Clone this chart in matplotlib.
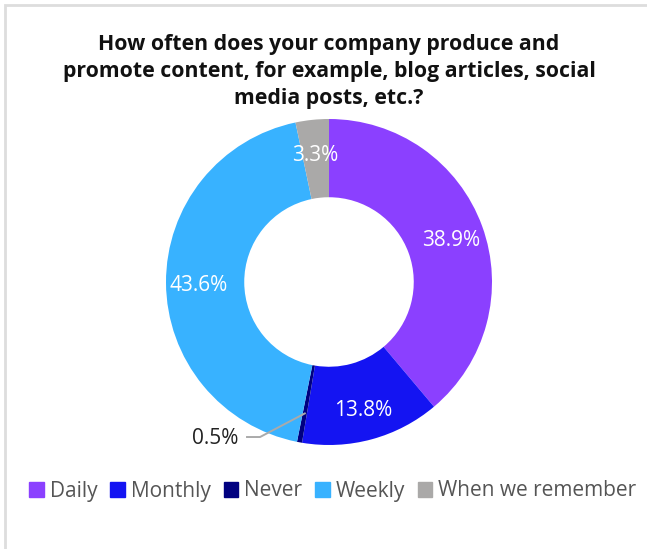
import matplotlib
matplotlib.use("Agg")
import matplotlib.pyplot as plt
from matplotlib.patches import Rectangle
import numpy as np

categories = ["Daily", "Monthly", "Never", "Weekly", "When we remember"]
shares = [38.9, 13.8, 0.5, 43.6, 3.3]
colors = ["#8b40ff", "#1414f2", "#000080", "#38b2ff", "#aaa9a8"]
title = ("How often does your company produce and\n"
         "promote content, for example, blog articles, social\n"
         "media posts, etc.?")

plt.rcParams["font.family"] = ["Open Sans", "DejaVu Sans"]

W, H = 647, 549
fig = plt.figure(figsize=(W / 100, H / 100), dpi=100)

# light frame round the card (only top and left edges fall inside)
fig.patches.append(Rectangle((5 / W, -0.01), 1.02, 1.01 - 5 / H, transform=fig.transFigure,
                             facecolor="none", edgecolor="#dddddd", lw=2))

cx, cy, r = 329, 282, 163
ax = fig.add_axes([(cx - r) / W, (H - cy - r) / H, 2 * r / W, 2 * r / H])
hole = 0.52
wedges, _ = ax.pie(shares, colors=colors, startangle=90, counterclock=False,
                   radius=1.0, wedgeprops=dict(width=1 - hole, edgecolor="none"))
ax.set_xlim(-1, 1)
ax.set_ylim(-1, 1)

label_r = 0.80
for w, v in zip(wedges, shares):
    ang = np.deg2rad((w.theta1 + w.theta2) / 2)
    if v < 1:
        # tiny slice: label outside with a bent leader line
        ex, ey = 0.82 * np.cos(ang), 0.82 * np.sin(ang)
        lx, ly = -0.423, -0.951
        ax.plot([ex, lx, lx - 0.08], [ey, ly, ly], color="#aaaaaa", lw=1.4, clip_on=False)
        ax.text(-0.557, -0.963, f"{v}%", ha="right", va="center", fontsize=15,
                color="#222222")
    else:
        x, y = label_r * np.cos(ang), label_r * np.sin(ang) - 0.018
        ax.text(x, y, f"{v}%", ha="center", va="center", fontsize=15, color="white")

fig.text(cx / W, 1 - 34 / H, title, ha="center", va="top", fontsize=15.3,
         fontweight="bold", color="#111111", linespacing=1.38)

handles = [Rectangle((0, 0), 1, 1, color=c) for c in colors]
fig.legend(handles, categories, loc="center", bbox_to_anchor=(333 / W, 1 - 491 / H),
           ncol=5, frameon=False, fontsize=15, handlelength=0.7, handleheight=0.7,
           handletextpad=0.3, columnspacing=0.6, labelcolor="#555555",
           borderpad=0, borderaxespad=0)

fig.savefig("out.png", dpi=100)
